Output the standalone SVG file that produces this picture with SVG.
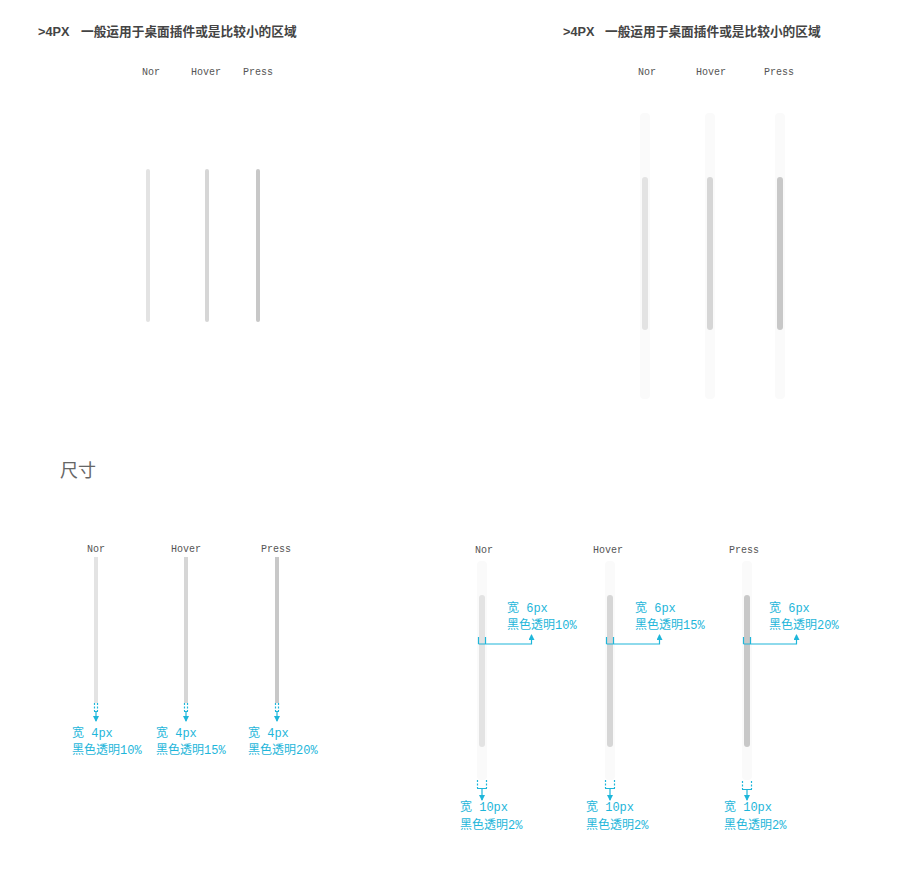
<svg xmlns="http://www.w3.org/2000/svg" width="910" height="876" viewBox="0 0 910 876">
<defs>
<style>
.title{font-family:"Liberation Sans","Noto Sans CJK SC",sans-serif;font-size:12.7px;font-weight:bold;fill:#444}
.lbl{font-family:"Liberation Mono","DejaVu Sans Mono",monospace;font-size:10px;fill:#555;text-anchor:middle}
.ann{font-family:"Liberation Mono","Noto Sans CJK SC",monospace;font-size:12px;fill:#1eb6da}
.ln{fill:none;stroke:#1eb6da;stroke-width:1.2}
.dash{fill:none;stroke:#1eb6da;stroke-width:1.2;stroke-dasharray:2 1.5}
.track{fill:#fafafa}
.c1{fill:#e3e3e3}.c2{fill:#d6d6d6}.c3{fill:#c8c8c8}
</style>
<marker id="ah" viewBox="0 0 6 6" refX="5" refY="3" markerWidth="6" markerHeight="6" orient="auto" markerUnits="userSpaceOnUse">
<path d="M0,0 L6,3 L0,6 z" fill="#1eb6da"/>
</marker>
</defs>
<rect width="910" height="876" fill="#fff"/>

<g id="titles">
<text class="title" x="38" y="36">&gt;4PX</text>
<text class="title" x="81" y="36">一般运用于桌面插件或是比较小的区域</text>
<text class="title" x="563" y="36">&gt;4PX</text>
<text class="title" x="605" y="36">一般运用于桌面插件或是比较小的区域</text>
<text x="60" y="477" style="font-family:'Noto Sans CJK SC',sans-serif;font-size:18px;fill:#666">尺寸</text>
</g>

<g id="top-left">
<text class="lbl" x="151" y="75">Nor</text>
<text class="lbl" x="206" y="75">Hover</text>
<text class="lbl" x="258" y="75">Press</text>
<rect class="c1" x="146" y="169" width="4" height="153" rx="2"/>
<rect class="c2" x="205" y="169" width="4" height="153" rx="2"/>
<rect class="c3" x="256" y="169" width="4" height="153" rx="2"/>
</g>

<g id="top-right">
<text class="lbl" x="647" y="75">Nor</text>
<text class="lbl" x="711" y="75">Hover</text>
<text class="lbl" x="779" y="75">Press</text>
<rect class="track" x="640" y="113" width="10" height="286" rx="4"/>
<rect class="c1" x="642" y="177" width="6" height="153" rx="3"/>
<rect class="track" x="705" y="113" width="10" height="286" rx="4"/>
<rect class="c2" x="707" y="177" width="6" height="153" rx="3"/>
<rect class="track" x="775" y="113" width="10" height="286" rx="4"/>
<rect class="c3" x="777" y="177" width="6" height="153" rx="3"/>
</g>

<g id="bottom-left">
<text class="lbl" x="96" y="552">Nor</text>
<text class="lbl" x="186" y="552">Hover</text>
<text class="lbl" x="276" y="552">Press</text>
<rect class="c1" x="94" y="557" width="4" height="146"/>
<rect class="c2" x="184" y="557" width="4" height="146"/>
<rect class="c3" x="275" y="557" width="4" height="146"/>
<text class="ann" x="72" y="737">宽 4px</text>
<text class="ann" x="72" y="754">黑色透明10%</text>
<text class="ann" x="156" y="737">宽 4px</text>
<text class="ann" x="156" y="754">黑色透明15%</text>
<text class="ann" x="248" y="737">宽 4px</text>
<text class="ann" x="248" y="754">黑色透明20%</text>
</g>

<g id="bottom-right">
<text class="lbl" x="484" y="553">Nor</text>
<text class="lbl" x="608" y="553">Hover</text>
<text class="lbl" x="744" y="553">Press</text>
<rect class="track" x="477" y="561" width="10" height="219" rx="4"/>
<rect class="c1" x="479" y="595" width="6" height="152" rx="3"/>
<rect class="track" x="605" y="561" width="10" height="219" rx="4"/>
<rect class="c2" x="607" y="595" width="6" height="152" rx="3"/>
<rect class="track" x="742" y="561" width="10" height="219" rx="4"/>
<rect class="c3" x="744" y="595" width="6" height="152" rx="3"/>
<text class="ann" x="507" y="612">宽 6px</text>
<text class="ann" x="507" y="629">黑色透明10%</text>
<text class="ann" x="635" y="612">宽 6px</text>
<text class="ann" x="635" y="629">黑色透明15%</text>
<text class="ann" x="769" y="612">宽 6px</text>
<text class="ann" x="769" y="629">黑色透明20%</text>
<text class="ann" x="460" y="811">宽 10px</text>
<text class="ann" x="460" y="829">黑色透明2%</text>
<text class="ann" x="586" y="811">宽 10px</text>
<text class="ann" x="586" y="829">黑色透明2%</text>
<text class="ann" x="724" y="811">宽 10px</text>
<text class="ann" x="724" y="829">黑色透明2%</text>
</g>

<g id="connectors">
<path class="dash" d="M94.5,703 V711 M97.5,703 V711"/>
<path class="ln" d="M94,711.5 H98 M96,711.5 V721" marker-end="url(#ah)"/>
<path class="dash" d="M184.5,703 V711 M187.5,703 V711"/>
<path class="ln" d="M184,711.5 H188 M186,711.5 V721" marker-end="url(#ah)"/>
<path class="dash" d="M275.5,703 V711 M278.5,703 V711"/>
<path class="ln" d="M275,711.5 H279 M277,711.5 V721" marker-end="url(#ah)"/>
<path class="ln" d="M478.5,637 V644 M485.5,637 V644 M478.5,644 H531.5 V635" marker-end="url(#ah)"/>
<path class="ln" d="M606.5,637 V644 M613.5,637 V644 M606.5,644 H659.5 V635" marker-end="url(#ah)"/>
<path class="ln" d="M743.5,637 V644 M750.5,637 V644 M743.5,644 H796.5 V635" marker-end="url(#ah)"/>
<path class="dash" d="M477.5,780 V788 M486.5,780 V788"/>
<path class="ln" d="M477,788.5 H487 M482,788.5 V800" marker-end="url(#ah)"/>
<path class="dash" d="M605.5,780 V788 M614.5,780 V788"/>
<path class="ln" d="M605,788.5 H615 M610,788.5 V800" marker-end="url(#ah)"/>
<path class="dash" d="M742.5,781 V789 M751.5,781 V789"/>
<path class="ln" d="M742,789.5 H752 M747,789.5 V800" marker-end="url(#ah)"/>
</g>
</svg>
